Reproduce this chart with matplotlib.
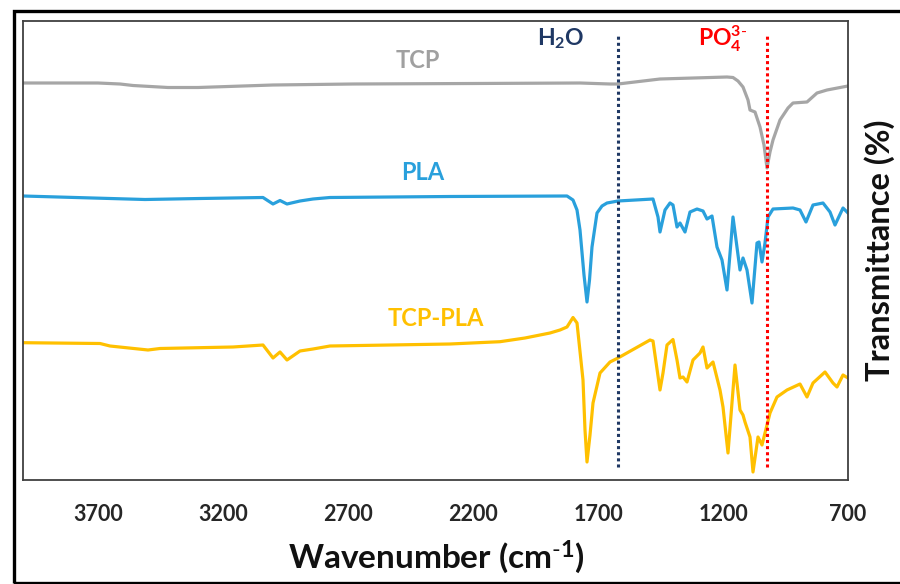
import matplotlib
matplotlib.use('Agg')
import matplotlib.pyplot as plt
from matplotlib.patches import Rectangle

plt.rcParams['font.family'] = ['Lato', 'DejaVu Sans']
plt.rcParams['mathtext.fontset'] = 'custom'
plt.rcParams['mathtext.rm'] = 'Lato'
plt.rcParams['mathtext.default'] = 'regular'

# 读图得到的光谱（波数 cm-1，透过率为任意偏移单位）
tcp_wn = [4000, 3700, 3612, 3560, 3420, 3300, 3000, 2680, 2200, 1772, 1652, 1620,
          1452, 1184, 1160, 1140, 1120, 1100, 1092, 1072, 1052, 1036, 1024, 1012, 1000,
          972, 940, 920, 864, 824, 784, 700]
tcp_t = [397, 397, 396, 394.5, 392.5, 392.5, 395, 396, 396.5, 397, 396, 396,
         401, 403, 402.5, 399, 393, 380, 370, 368, 353, 335, 312, 328, 340,
         360, 372, 377, 378, 387, 390, 394]

pla_wn = [4000, 3512, 3292, 3040, 3000, 2972, 2944, 2892, 2840, 2772, 2292, 1824, 1800,
          1784, 1772, 1756, 1744, 1734, 1724, 1704, 1684, 1664, 1620, 1480, 1460, 1452,
          1432, 1412, 1400, 1384, 1372, 1352, 1332, 1304, 1280, 1264, 1244, 1224, 1204,
          1184, 1160, 1132, 1120, 1104, 1084, 1064, 1056, 1044, 1032, 1020, 1000, 920,
          892, 868, 840, 800, 772, 752, 720, 700]
pla_t = [284, 280.5, 281.5, 282.5, 276, 279.5, 276, 279, 281, 282.5, 283.5, 284, 280,
         270, 250, 205, 178, 200, 233, 267, 274, 277, 279, 281, 263, 248,
         270, 277, 275, 253, 257, 248, 268, 271, 269, 261, 264, 233, 220,
         190, 263, 210, 222, 210, 177, 237, 238, 218, 237, 263, 271, 272,
         270, 258, 275, 277, 268, 255, 272, 267]

mix_wn = [4000, 3692, 3652, 3500, 3452, 3160, 3040, 3000, 2972, 2944, 2892, 2840, 2772,
          2292, 2092, 1992, 1892, 1852, 1824, 1800, 1784, 1760, 1752, 1744, 1732, 1720,
          1692, 1652, 1620, 1492, 1480, 1452, 1440, 1424, 1400, 1384, 1372, 1360, 1344,
          1320, 1292, 1280, 1264, 1240, 1212, 1200, 1180, 1152, 1132, 1120, 1112, 1092,
          1080, 1060, 1044, 1032, 1012, 984, 944, 892, 864, 840, 792, 760, 744, 720, 700]
mix_t = [137.3, 136.5, 134, 130, 131.5, 133, 135, 122, 128, 120, 129, 131, 134,
         136, 138.3, 142, 147, 150, 153, 162.5, 157, 100, 50, 18, 45, 77,
         107, 118, 122, 140, 139, 90, 107, 135, 140.5, 120, 102, 103, 98,
         120, 127, 133, 112, 118, 90, 73, 27, 115, 70, 65, 58, 43,
         8, 43, 35, 47, 67, 83, 90, 96, 83, 97, 108, 97, 93, 105, 102]

h2o_wn = 1620
po4_wn = 1024

fig = plt.figure(figsize=(9, 5.84), dpi=100)
ax = fig.add_axes([23 / 900, 1 - 480 / 584, 825 / 900, 459 / 584])

ax.plot(tcp_wn, tcp_t, color='#a6a6a6', lw=2.3)
ax.plot(pla_wn, pla_t, color='#29a0dc', lw=2.3)
ax.plot(mix_wn, mix_t, color='#ffc000', lw=2.3)

ax.vlines(h2o_wn, 13, 445, color='#1f3864', lw=2.2, linestyles=(0, (1, 1)))
ax.vlines(po4_wn, 13, 445, color='#ff0000', lw=2.2, linestyles=(0, (1, 1)))

ax.set_xlim(4000, 700)
ax.set_ylim(0, 459)
ax.set_xticks([3700, 3200, 2700, 2200, 1700, 1200, 700])
ax.set_yticks([])
ax.tick_params(axis='x', length=0, pad=17, labelsize=15.5, colors='#262626')
for lab in ax.get_xticklabels():
    lab.set_fontweight('bold')
for s in ax.spines.values():
    s.set_color('#404040')
    s.set_linewidth(1.3)

# 标注
ax.text(2420, 419, 'TCP', color='#a0a0a0', fontsize=17, fontweight='bold', ha='center', va='center')
ax.text(2400, 308, 'PLA', color='#29a0dc', fontsize=17, fontweight='bold', ha='center', va='center')
ax.text(2350, 161, 'TCP-PLA', color='#ffc000', fontsize=17, fontweight='bold', ha='center', va='center')
ax.text(1850, 441, r'H$_{2}$O', color='#1f3864', fontsize=16.5, fontweight='bold',
        ha='center', va='center')
ax.text(1200, 441, r'PO$_{4}^{3\text{-}}$', color='#ff0000', fontsize=16.5, fontweight='bold',
        ha='center', va='center')

fig.text(436 / 900, 1 - 557 / 584, r'Wavenumber (cm$^{\text{-}1}$)', fontsize=24,
         fontweight='bold', color='#111111', ha='center', va='center')
fig.text(880 / 900, 1 - 250 / 584, 'Transmittance (%)', fontsize=23.5, fontweight='bold',
         color='#111111', rotation=90, ha='center', va='center')

# 外框
fig.patches.append(Rectangle((14 / 900, 1.5 / 584), 1.0, 572 / 584, transform=fig.transFigure,
                             fill=False, edgecolor='black', lw=2.4))

fig.savefig('out.png', dpi=100)
